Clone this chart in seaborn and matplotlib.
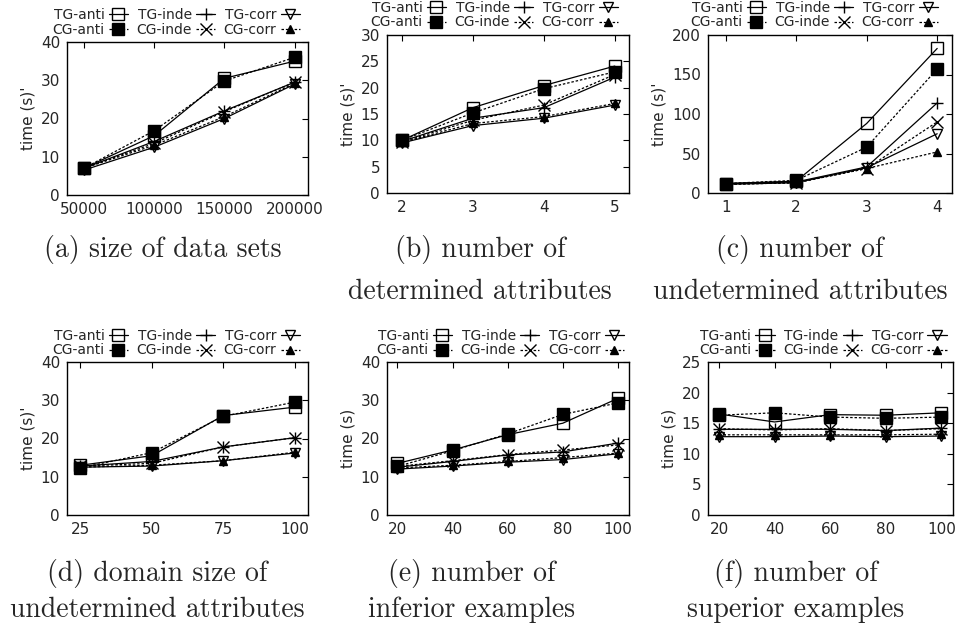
import numpy as np
import pandas as pd
import seaborn as sns
import matplotlib.pyplot as plt

# Series order as they appear in the legend (column-wise: TG above CG)
series_names = ["TG-anti", "CG-anti", "TG-inde", "CG-inde", "TG-corr", "CG-corr"]

# (a) size of data sets
size_x = [50000, 100000, 150000, 200000]
size_y = {
    "TG-anti": [7.0, 15.5, 30.5, 35.0],
    "CG-anti": [7.0, 16.8, 29.8, 36.0],
    "TG-inde": [7.0, 14.0, 22.0, 29.5],
    "CG-inde": [7.0, 13.5, 21.8, 29.5],
    "TG-corr": [6.5, 12.5, 20.0, 29.0],
    "CG-corr": [7.0, 13.0, 20.5, 29.2],
}

# (b) number of determined attributes
det_x = [2, 3, 4, 5]
det_y = {
    "TG-anti": [10.0, 16.2, 20.4, 24.1],
    "CG-anti": [10.0, 15.2, 19.8, 23.0],
    "TG-inde": [9.8, 14.2, 16.2, 22.0],
    "CG-inde": [9.7, 13.8, 16.7, 22.5],
    "TG-corr": [9.5, 12.8, 14.2, 16.7],
    "CG-corr": [9.6, 13.2, 14.5, 17.0],
}

# (c) number of undetermined attributes
undet_x = [1, 2, 3, 4]
undet_y = {
    "TG-anti": [12, 15, 88, 183],
    "CG-anti": [12, 16, 58, 157],
    "TG-inde": [12, 14, 33, 114],
    "CG-inde": [11, 13, 31, 90],
    "TG-corr": [11, 13, 32, 75],
    "CG-corr": [11, 13, 31, 52],
}

# (d) domain size of undetermined attributes
dom_x = [25, 50, 75, 100]
dom_y = {
    "TG-anti": [13.0, 15.5, 26.0, 28.2],
    "CG-anti": [12.3, 16.3, 25.8, 29.5],
    "TG-inde": [12.8, 14.0, 17.8, 20.2],
    "CG-inde": [12.8, 13.5, 17.8, 20.2],
    "TG-corr": [12.5, 12.8, 14.2, 16.2],
    "CG-corr": [12.5, 13.0, 14.2, 16.4],
}

# (e) number of inferior examples
inf_x = [20, 40, 60, 80, 100]
inf_y = {
    "TG-anti": [13.5, 17.0, 21.0, 24.0, 30.5],
    "CG-anti": [12.7, 16.8, 21.2, 26.3, 29.3],
    "TG-inde": [12.5, 14.0, 15.7, 16.5, 18.8],
    "CG-inde": [12.7, 14.2, 15.8, 17.0, 18.3],
    "TG-corr": [12.0, 12.8, 13.8, 14.5, 16.0],
    "CG-corr": [12.3, 13.0, 14.0, 15.0, 16.2],
}

# (f) number of superior examples
sup_x = [20, 40, 60, 80, 100]
sup_y = {
    "TG-anti": [16.5, 15.2, 16.4, 16.3, 16.7],
    "CG-anti": [16.3, 16.7, 16.0, 15.8, 16.0],
    "TG-inde": [14.0, 14.0, 14.0, 13.8, 14.2],
    "CG-inde": [14.1, 13.9, 14.1, 13.8, 14.1],
    "TG-corr": [12.8, 12.8, 12.9, 12.8, 12.9],
    "CG-corr": [13.1, 13.1, 13.1, 13.1, 13.2],
}

captions = [
    ["(a) size of data sets"],
    ["(b) number of", "determined attributes"],
    ["(c) number of", "undetermined attributes"],
    ["(d) domain size of", "undetermined attributes"],
    ["(e) number of", "inferior examples"],
    ["(f) number of", "superior examples"],
]
ylabels = ["time (s)'", "time (s)'", "time (s)'", "time (s)'", "time (s)", "time (s)"]

# marker / line look per series (gnuplot-ish)
marker_of = {"TG-anti": "s", "CG-anti": "s", "TG-inde": "+", "CG-inde": "x",
             "TG-corr": "v", "CG-corr": "^"}
face_of = {"TG-anti": "none", "CG-anti": "black", "TG-inde": "black", "CG-inde": "black",
           "TG-corr": "none", "CG-corr": "black"}
size_of = {"TG-anti": 8, "CG-anti": 9, "TG-inde": 9, "CG-inde": 8,
           "TG-corr": 7, "CG-corr": 6}

sns.set_theme(style="white")
plt.rcParams["font.family"] = ["DejaVu Sans"]

fig = plt.figure(figsize=(9.61, 6.30), dpi=100)
W, H = 961, 630

# panel boxes in pixels: left, top, right, bottom
boxes = [
    (67, 42, 308, 195),
    (387, 35, 629, 193),
    (708, 35, 952, 193),
    (67, 362, 308, 515),
    (387, 362, 629, 515),
    (708, 362, 953, 515),
]
panels = [
    (size_x, size_y, (38000, 209500), 40, 10, [50000, 100000, 150000, 200000]),
    (det_x, det_y, (1.79, 5.2), 30, 5, det_x),
    (undet_x, undet_y, (0.75, 4.21), 200, 50, undet_x),
    (dom_x, dom_y, (20.35, 104.65), 40, 10, dom_x),
    (inf_x, inf_y, (16.2, 104), 40, 10, inf_x),
    (sup_x, sup_y, (16, 104.2), 25, 5, sup_x),
]
legend_anchor = [(0.967, 1.035), (0.955, 1.035), (0.943, 1.035),
                 (0.967, 1.03), (0.98, 1.03), (0.975, 1.03)]

for i, (xs, ys, xlim, ytop, ystep, xt) in enumerate(panels):
    l, t, r, b = boxes[i]
    ax = fig.add_axes([l / W, 1 - b / H, (r - l) / W, (b - t) / H])
    for name in series_names:
        ls = "-" if name.startswith("TG") else (0, (2, 1.5))
        sns.lineplot(x=xs, y=ys[name], ax=ax, color="black", linestyle=ls,
                     linewidth=0.9, marker=marker_of[name], markersize=size_of[name],
                     markerfacecolor=face_of[name], markeredgecolor="black",
                     markeredgewidth=1.0, label=name, legend=False)
    ax.set_xlim(*xlim)
    ax.set_ylim(0, ytop)
    ax.set_xticks(xt)
    ax.set_yticks(np.arange(0, ytop + 1, ystep))
    ax.set_xlabel("")
    ax.set_ylabel(ylabels[i], fontsize=11, labelpad=4)
    ax.tick_params(direction="in", top=True, right=True, length=4, width=0.8,
                   labelsize=11, pad=5, color="black")
    for sp in ax.spines.values():
        sp.set_color("black")
        sp.set_linewidth(1.0)
    handles = ax.get_lines()[:6]
    ax.legend(handles, series_names, ncol=3, markerfirst=False, frameon=False,
              loc="lower right", bbox_to_anchor=legend_anchor[i], borderpad=0,
              borderaxespad=0, fontsize=10, handlelength=1.4, handletextpad=0.3,
              columnspacing=0.6, labelspacing=0.05)

# captions under each panel
cap_x = [163, 480, 800, 157, 472, 796]
cap_y = [[250, 292], [250, 292], [250, 292], [573, 610], [573, 610], [573, 610]]
for i, lines in enumerate(captions):
    for j, line in enumerate(lines):
        fig.text(cap_x[i] / W, 1 - cap_y[i][j] / H, line, ha="center", va="center",
                 fontsize=20, family="cmr10")

fig.savefig("out.png", dpi=100, facecolor="white")
